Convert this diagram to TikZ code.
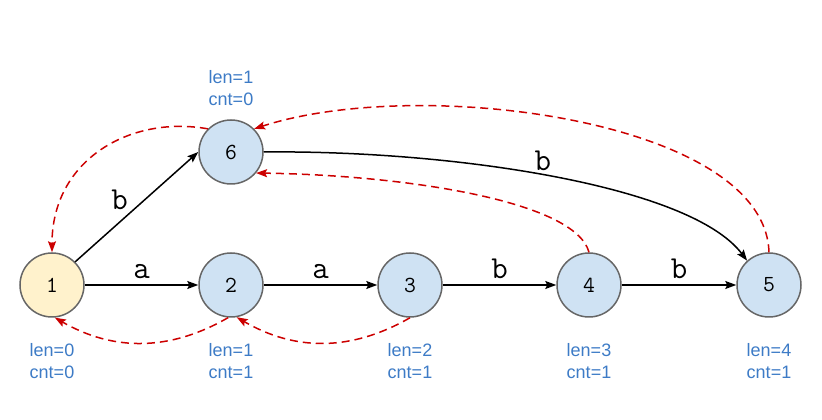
\documentclass[tikz,border=0pt]{standalone}
\usepackage{fontspec}
\setmainfont{Liberation Sans}
\usetikzlibrary{arrows.meta}

\definecolor{nodeblue}{HTML}{CFE2F3}
\definecolor{nodeyellow}{HTML}{FFF2CC}
\definecolor{nodeborder}{HTML}{666666}
\definecolor{infoblue}{HTML}{3D7BC6}
\definecolor{linkred}{HTML}{CC0000}

\tikzset{
  state/.style={circle, draw=nodeborder, line width=1.5pt, fill=nodeblue, minimum size=64pt, inner sep=0pt, font=\ttfamily\fontsize{23}{23}\selectfont},
  info/.style={align=center, text=infoblue, font=\fontsize{18}{22}\selectfont},
  trans/.style={line width=1.5pt, -{Stealth[length=11pt, width=8pt, inset=2pt]}},
  sym/.style={font=\ttfamily\fontsize{32}{32}\selectfont, inner sep=2pt},
  link/.style={linkred, line width=1.5pt, dash pattern=on 8pt off 5pt, -{Stealth[length=11pt, width=8pt, inset=2pt]}},
}

\begin{document}
\begin{tikzpicture}[x=1pt, y=1pt]
    \useasboundingbox (0,0) rectangle (822,420);

    \node[state, fill=nodeyellow] (1) at (52,135) {1};
    \node[state] (2) at (231,135) {2};
    \node[state] (3) at (410,135) {3};
    \node[state] (4) at (589,135) {4};
    \node[state] (5) at (769,135) {5};
    \node[state] (6) at (231,268) {6};

    \node[info] (i1) at (52,59) {len=0\\cnt=0};
    \node[info] (i2) at (231,59) {len=1\\cnt=1};
    \node[info] (i3) at (410,59) {len=2\\cnt=1};
    \node[info] (i4) at (589,59) {len=3\\cnt=1};
    \node[info] (i5) at (769,59) {len=4\\cnt=1};
    \node[info] (i6) at (231,332) {len=1\\cnt=0};

    % goto edges
    \draw[trans] (1) -- node[sym, above=4pt] {a} (2);
    \draw[trans] (2) -- node[sym, above=4pt] {a} (3);
    \draw[trans] (3) -- node[sym, above=4pt] {b} (4);
    \draw[trans] (4) -- node[sym, above=4pt] {b} (5);
    \draw[trans] (1.45) -- node[sym, pos=0.45, above left] {b} (6.west);
    \draw[trans] (6.east) .. controls (450,270) and (690,235) .. node[sym, pos=0.48, above=2pt] {b} (5.132);

    % fail links
    \draw[link] (6.135) .. controls (130,305) and (52,260) .. (1.north);
    \draw[link] (2.-95) to[bend left=30] (1.-85);
    \draw[link] (3.south) to[bend left=30] (2.-80);
    \draw[link] (4.north) .. controls (575,220) and (400,245) .. (6.-40);
    \draw[link] (5.north) .. controls (765,300) and (420,345) .. (6.45);
\end{tikzpicture}
\end{document}
